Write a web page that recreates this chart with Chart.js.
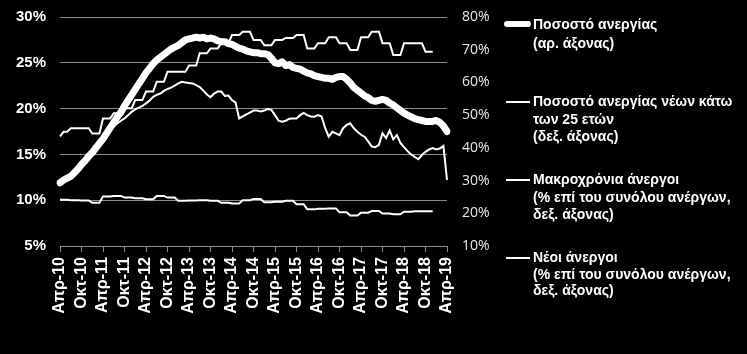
<!DOCTYPE html>
<html>
<head>
<meta charset="utf-8">
<script src="https://cdn.jsdelivr.net/npm/chart.js@4"></script>
<style>
  html, body { margin:0; padding:0; background:#000; }
  #wrap { position:relative; width:747px; height:354px; background:#000; overflow:hidden; }
  canvas { position:absolute; left:0; top:0; }
  .leg { position:absolute; left:533px; color:#fff; font-family:"Liberation Sans", Arial, sans-serif; font-weight:bold; font-size:14px; line-height:17.5px; white-space:nowrap; }
  .sw { position:absolute; background:#fff; }
</style>
</head>
<body>
<div id="wrap">
<canvas id="c" width="747" height="354"></canvas>
<div class="sw" style="left:504px; top:21px; width:27px; height:6px; border-radius:3px;"></div>
<div class="leg" style="top:15px; line-height:19px;">Ποσοστό ανεργίας<br>(αρ. άξονας)</div>
<div class="sw" style="left:506px; top:101px; width:24px; height:2px;"></div>
<div class="leg" style="top:93px;">Ποσοστό ανεργίας νέων κάτω<br>των 25 ετών<br>(δεξ. άξονας)</div>
<div class="sw" style="left:506px; top:179px; width:24px; height:2px;"></div>
<div class="leg" style="top:171px;">Μακροχρόνια άνεργοι<br>(% επί του συνόλου ανέργων,<br>δεξ. άξονας)</div>
<div class="sw" style="left:506px; top:257px; width:24px; height:2px;"></div>
<div class="leg" style="top:249px; line-height:16.5px;">Νέοι άνεργοι<br>(% επί του συνόλου ανέργων,<br>δεξ. άξονας)</div>
</div>
<script>
// Monthly categories, Apr 2010 – Apr 2019
const categories = [
  'Απρ-10','Μαϊ-10','Ιουν-10','Ιουλ-10','Αυγ-10','Σεπ-10','Οκτ-10','Νοε-10','Δεκ-10',
  'Ιαν-11','Φεβ-11','Μαρ-11','Απρ-11','Μαϊ-11','Ιουν-11','Ιουλ-11','Αυγ-11','Σεπ-11','Οκτ-11','Νοε-11','Δεκ-11',
  'Ιαν-12','Φεβ-12','Μαρ-12','Απρ-12','Μαϊ-12','Ιουν-12','Ιουλ-12','Αυγ-12','Σεπ-12','Οκτ-12','Νοε-12','Δεκ-12',
  'Ιαν-13','Φεβ-13','Μαρ-13','Απρ-13','Μαϊ-13','Ιουν-13','Ιουλ-13','Αυγ-13','Σεπ-13','Οκτ-13','Νοε-13','Δεκ-13',
  'Ιαν-14','Φεβ-14','Μαρ-14','Απρ-14','Μαϊ-14','Ιουν-14','Ιουλ-14','Αυγ-14','Σεπ-14','Οκτ-14','Νοε-14','Δεκ-14',
  'Ιαν-15','Φεβ-15','Μαρ-15','Απρ-15','Μαϊ-15','Ιουν-15','Ιουλ-15','Αυγ-15','Σεπ-15','Οκτ-15','Νοε-15','Δεκ-15',
  'Ιαν-16','Φεβ-16','Μαρ-16','Απρ-16','Μαϊ-16','Ιουν-16','Ιουλ-16','Αυγ-16','Σεπ-16','Οκτ-16','Νοε-16','Δεκ-16',
  'Ιαν-17','Φεβ-17','Μαρ-17','Απρ-17','Μαϊ-17','Ιουν-17','Ιουλ-17','Αυγ-17','Σεπ-17','Οκτ-17','Νοε-17','Δεκ-17',
  'Ιαν-18','Φεβ-18','Μαρ-18','Απρ-18','Μαϊ-18','Ιουν-18','Ιουλ-18','Αυγ-18','Σεπ-18','Οκτ-18','Νοε-18','Δεκ-18',
  'Ιαν-19','Φεβ-19','Μαρ-19','Απρ-19'
];

// Tick labels shown every 6 months
const tickLabels = ['Απρ-10','Οκτ-10','Απρ-11','Οκτ-11','Απρ-12','Οκτ-12','Απρ-13','Οκτ-13','Απρ-14','Οκτ-14',
  'Απρ-15','Οκτ-15','Απρ-16','Οκτ-16','Απρ-17','Οκτ-17','Απρ-18','Οκτ-18','Απρ-19'];

// Unemployment rate (left axis, %)
const unemployment = [
  11.9,12.2,12.4,12.6,13.0,13.4,13.9,14.3,14.8,15.2,15.7,16.2,
  16.7,17.3,17.9,18.5,19.1,19.6,20.3,20.9,21.5,22.1,22.7,23.3,
  23.9,24.4,24.9,25.3,25.6,25.9,26.2,26.5,26.7,26.9,27.2,27.5,
  27.6,27.7,27.8,27.7,27.8,27.6,27.7,27.6,27.4,27.3,27.3,27.1,
  27.0,26.8,26.6,26.5,26.3,26.2,26.1,26.1,26.0,26.0,25.9,25.5,
  25.0,24.9,25.1,24.7,24.8,24.5,24.4,24.3,24.1,23.9,23.8,23.6,
  23.5,23.4,23.3,23.3,23.2,23.4,23.5,23.5,23.2,22.8,22.3,22.0,
  21.7,21.4,21.2,20.9,20.8,20.9,21.0,20.9,20.6,20.4,20.1,19.8,
  19.5,19.3,19.1,18.9,18.8,18.7,18.6,18.6,18.6,18.7,18.5,18.1,
  17.5
];

// Youth (<25) unemployment rate (right axis, %)
const youth = [
  29.6,30.3,30.8,31.3,32.3,33.4,34.7,35.7,37.1,38.3,39.7,41.1,
  42.5,44.2,45.5,46.5,47.5,48.3,49.0,50.0,51.0,51.8,52.3,52.8,
  53.6,54.5,55.6,56.2,56.6,57.4,58.0,58.4,59.0,59.7,60.2,60.0,
  59.8,59.7,59.2,58.6,57.5,56.3,55.5,56.6,57.2,57.2,55.9,56.0,
  54.6,53.8,49.0,49.6,50.2,50.8,51.4,51.4,51.1,51.4,51.9,51.6,
  50.0,48.3,48.0,48.3,48.9,49.0,49.0,50.0,50.7,50.0,49.6,49.5,
  50.0,49.6,46.0,43.4,44.9,44.4,43.9,46.0,47.0,47.5,46.0,44.9,
  44.0,43.4,42.0,40.4,40.2,40.9,44.5,43.0,45.3,42.6,43.9,41.5,
  40.2,39.0,38.0,37.2,36.5,37.8,38.8,39.5,39.9,39.5,39.8,40.6,
  30.2
];

// Long-term unemployed (% of all unemployed, right axis), quarterly data held monthly
const longTerm = [
  43.5,44.9,44.9, 46.0,46.0,46.0, 46.0,46.0,46.0, 44.4,44.4,44.4,
  49.0,49.0,49.0, 50.6,50.6,50.6, 52.1,52.1,52.1, 54.6,54.6,54.6,
  57.2,57.2,57.2, 60.2,60.2,60.2, 63.3,63.3,63.3, 63.3,63.3,63.3,
  65.2,65.2,65.2, 68.9,68.9,68.9, 70.4,70.4,70.4, 72.0,72.0,72.0,
  74.5,74.5,74.5, 75.5,75.5,75.5, 73.0,73.0,73.0, 71.4,71.4,71.4,
  73.0,73.0,73.0, 73.6,73.6,73.6, 74.5,74.5,74.5, 70.4,70.4,70.4,
  72.0,72.0,72.0, 73.8,73.8,73.8, 72.0,72.0,72.0, 69.9,69.9,69.9,
  73.8,73.8,73.8, 75.5,75.5,75.5, 72.0,72.0,72.0, 68.4,68.4,68.4,
  72.0,72.0,72.0, 72.0,72.0,72.0, 69.4,69.4,69.4,
  null,null,null,null
];

// New unemployed (% of all unemployed, right axis)
const newUnemployed = [
  24.1,24.1,24.1, 24.0,24.0,24.0, 23.9,23.9,23.9, 23.2,23.2,23.2,
  25.1,25.1,25.1, 25.3,25.3,25.3, 24.8,24.8,24.8, 24.6,24.6,24.6,
  24.3,24.3,24.3, 25.3,25.3,25.3, 24.8,24.8,24.8, 23.8,23.8,23.8,
  23.9,23.9,23.9, 24.0,24.0,24.0, 23.8,23.8,23.8, 23.2,23.2,23.2,
  23.0,23.0,23.0, 24.0,24.0,24.0, 24.4,24.4,24.4, 23.4,23.4,23.4,
  23.5,23.5,23.5, 23.8,23.8,23.8, 22.8,22.8,22.8, 21.2,21.2,21.2,
  21.4,21.4,21.4, 21.5,21.5,21.5, 20.3,20.3,20.3, 19.3,19.3,19.3,
  20.2,20.2,20.2, 20.7,20.7,20.7, 19.9,19.9,19.9, 19.7,19.7,19.7,
  20.5,20.5,20.5, 20.6,20.6,20.6, 20.6,20.6,20.6,
  null,null,null,null
];

const FONT = '"Liberation Sans", Arial, sans-serif';

new Chart(document.getElementById('c'), {
  type: 'line',
  data: {
    labels: categories,
    datasets: [
      { label: 'Ποσοστό ανεργίας (αρ. άξονας)', data: unemployment, yAxisID: 'y',
        borderColor: '#fff', borderWidth: 7, borderCapStyle: 'round', borderJoinStyle: 'round',
        pointRadius: 0, tension: 0 },
      { label: 'Ποσοστό ανεργίας νέων κάτω των 25 ετών (δεξ. άξονας)', data: youth, yAxisID: 'y1',
        borderColor: '#fff', borderWidth: 2, pointRadius: 0, tension: 0 },
      { label: 'Μακροχρόνια άνεργοι (% επί του συνόλου ανέργων, δεξ. άξονας)', data: longTerm, yAxisID: 'y1',
        borderColor: '#fff', borderWidth: 2, pointRadius: 0, tension: 0 },
      { label: 'Νέοι άνεργοι (% επί του συνόλου ανέργων, δεξ. άξονας)', data: newUnemployed, yAxisID: 'y1',
        borderColor: '#fff', borderWidth: 2, pointRadius: 0, tension: 0 }
    ]
  },
  options: {
    responsive: false,
    animation: false,
    layout: { padding: { left: 0, top: 17, right: 240, bottom: 0 } },
    plugins: { legend: { display: false }, tooltip: { enabled: false } },
    scales: {
      x: {
        type: 'category',
        offset: false,
        grid: { drawOnChartArea: false, drawTicks: true, tickLength: 6, color: '#8c8c8c', lineWidth: 1 },
        border: { display: true, color: '#8c8c8c', width: 1 },
        ticks: {
          autoSkip: false, minRotation: 90, maxRotation: 90, padding: 5,
          color: '#fff', font: { family: FONT, size: 16, weight: 'bold' },
          callback: function (val, idx) { return idx % 6 === 0 ? tickLabels[idx / 6] : null; }
        },
        afterFit: function (s) { s.height = 108; s.paddingLeft = 0; s.paddingRight = 0; s.paddingTop = 0; s.paddingBottom = 0; }
      },
      y: {
        position: 'left', min: 5, max: 30,
        grid: { color: '#8c8c8c', lineWidth: 1, drawTicks: false },
        border: { display: false },
        ticks: { stepSize: 5, padding: 14, color: '#fff', font: { family: FONT, size: 15, weight: 'bold' },
          callback: function (v) { return v + '%'; } },
        afterFit: function (s) { s.width = 60; s.paddingTop = 0; s.paddingBottom = 0; }
      },
      y1: {
        position: 'right', min: 10, max: 80,
        grid: { display: false, drawTicks: false },
        border: { display: false },
        ticks: { stepSize: 10, padding: 15, color: '#e8e8e8', font: { family: '"Open Sans", sans-serif', size: 14 },
          callback: function (v) { return v + '%'; } },
        afterFit: function (s) { s.width = 60; s.paddingTop = 0; s.paddingBottom = 0; }
      }
    }
  }
});
</script>
</body>
</html>
